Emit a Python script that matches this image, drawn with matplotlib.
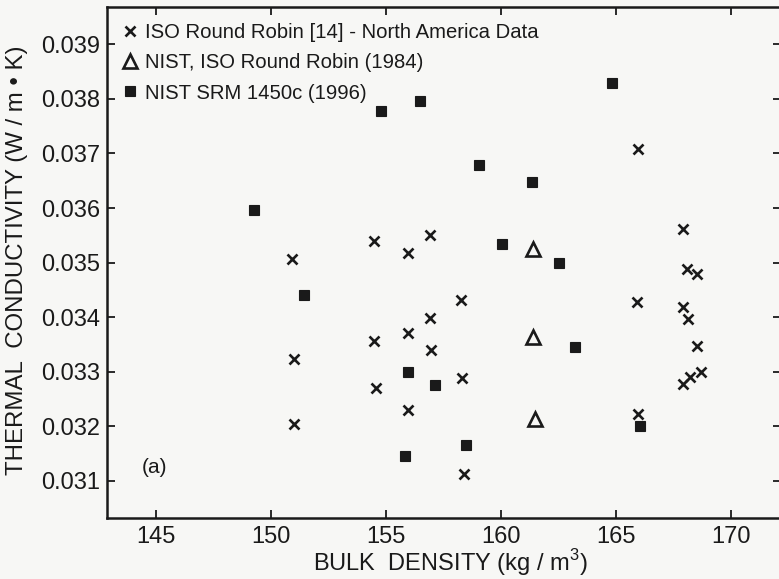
import matplotlib
matplotlib.use("Agg")
import matplotlib.pyplot as plt

plt.rcParams['font.family'] = ['Liberation Sans', 'DejaVu Sans']

# ISO Round Robin [14] - North America Data
iso_x = [150.92, 151.02, 151.02, 154.47, 154.49, 154.55, 155.98, 155.98, 155.94,
         156.93, 156.91, 156.95, 158.27, 158.31, 158.40, 165.95, 165.90, 165.96,
         167.90, 168.10, 168.54, 167.90, 168.12, 168.52, 167.90, 168.22, 168.68]
iso_y = [0.03507, 0.03324, 0.03204, 0.03539, 0.03356, 0.03271, 0.03518, 0.03371, 0.03230,
         0.03550, 0.03399, 0.03340, 0.03432, 0.03289, 0.03112, 0.03708, 0.03428, 0.03223,
         0.03561, 0.03488, 0.03479, 0.03419, 0.03397, 0.03348, 0.03278, 0.03291, 0.03300]

# NIST, ISO Round Robin (1984)
nist84_x = [161.41, 161.41, 161.47]
nist84_y = [0.03525, 0.03364, 0.03214]

# NIST SRM 1450c (1996)
srm_x = [149.27, 151.46, 154.79, 156.50, 159.05, 161.35, 164.84, 160.04, 162.53,
         163.22, 155.98, 157.14, 155.83, 158.49, 166.05]
srm_y = [0.03596, 0.03440, 0.03778, 0.03797, 0.03678, 0.03648, 0.03829, 0.03534, 0.03500,
         0.03346, 0.03300, 0.03275, 0.03146, 0.03166, 0.03201]

x_ticks = [145, 150, 155, 160, 165, 170]
y_ticks = [0.031, 0.032, 0.033, 0.034, 0.035, 0.036, 0.037, 0.038, 0.039]

fig = plt.figure(figsize=(7.79, 5.79), dpi=100)
fig.patch.set_facecolor('#f7f7f5')
ax = fig.add_axes([0.1374, 0.1054, 0.8646, 0.8825])
ax.set_facecolor('#f7f7f5')

col = '#1a1a1a'
ax.plot(iso_x, iso_y, linestyle='none', marker='x', markersize=7, markeredgewidth=1.9,
        color=col, label='ISO Round Robin [14] - North America Data')
ax.plot(nist84_x, nist84_y, linestyle='none', marker='^', markersize=9.5, markeredgewidth=1.9,
        markerfacecolor='none', markeredgecolor=col, label='NIST, ISO Round Robin (1984)')
ax.plot(srm_x, srm_y, linestyle='none', marker='s', markersize=7.8, markeredgewidth=0.8,
        color=col, label='NIST SRM 1450c (1996)')

ax.set_xlim(142.88, 172.15)
ax.set_ylim(0.030322, 0.039683)
ax.set_xticks(x_ticks)
ax.set_xticklabels([str(t) for t in x_ticks])
ax.set_yticks(y_ticks)
ax.set_yticklabels([f"{t:.3f}" for t in y_ticks])

ax.tick_params(direction='in', length=6, width=1.3, top=True, right=True,
               labelsize=17, colors=col, pad=6)
ax.tick_params(axis='y', pad=5)
for s in ax.spines.values():
    s.set_linewidth(1.8)
    s.set_color(col)

xl = ax.set_xlabel('BULK  DENSITY (kg / m$^\\mathregular{3}$)', fontsize=17, color=col)
ax.xaxis.set_label_coords(0.509, -0.1037)
xl.set_verticalalignment('baseline')
ax.set_ylabel('THERMAL  CONDUCTIVITY (W / m \u2022 K)', fontsize=17.3, color=col)
ax.yaxis.set_label_coords(-0.117, 0.505)

leg = ax.legend(loc='upper left', bbox_to_anchor=(0.0, 1.0), frameon=False, fontsize=14.6,
                handlelength=0.7, handletextpad=0.35, labelspacing=0.55, borderaxespad=0.4,
                labelcolor=col)

ax.text(0.052, 0.098, '(a)', transform=ax.transAxes, fontsize=15, color=col,
        ha='left', va='center')

fig.savefig('out.png', dpi=100, facecolor=fig.get_facecolor())
